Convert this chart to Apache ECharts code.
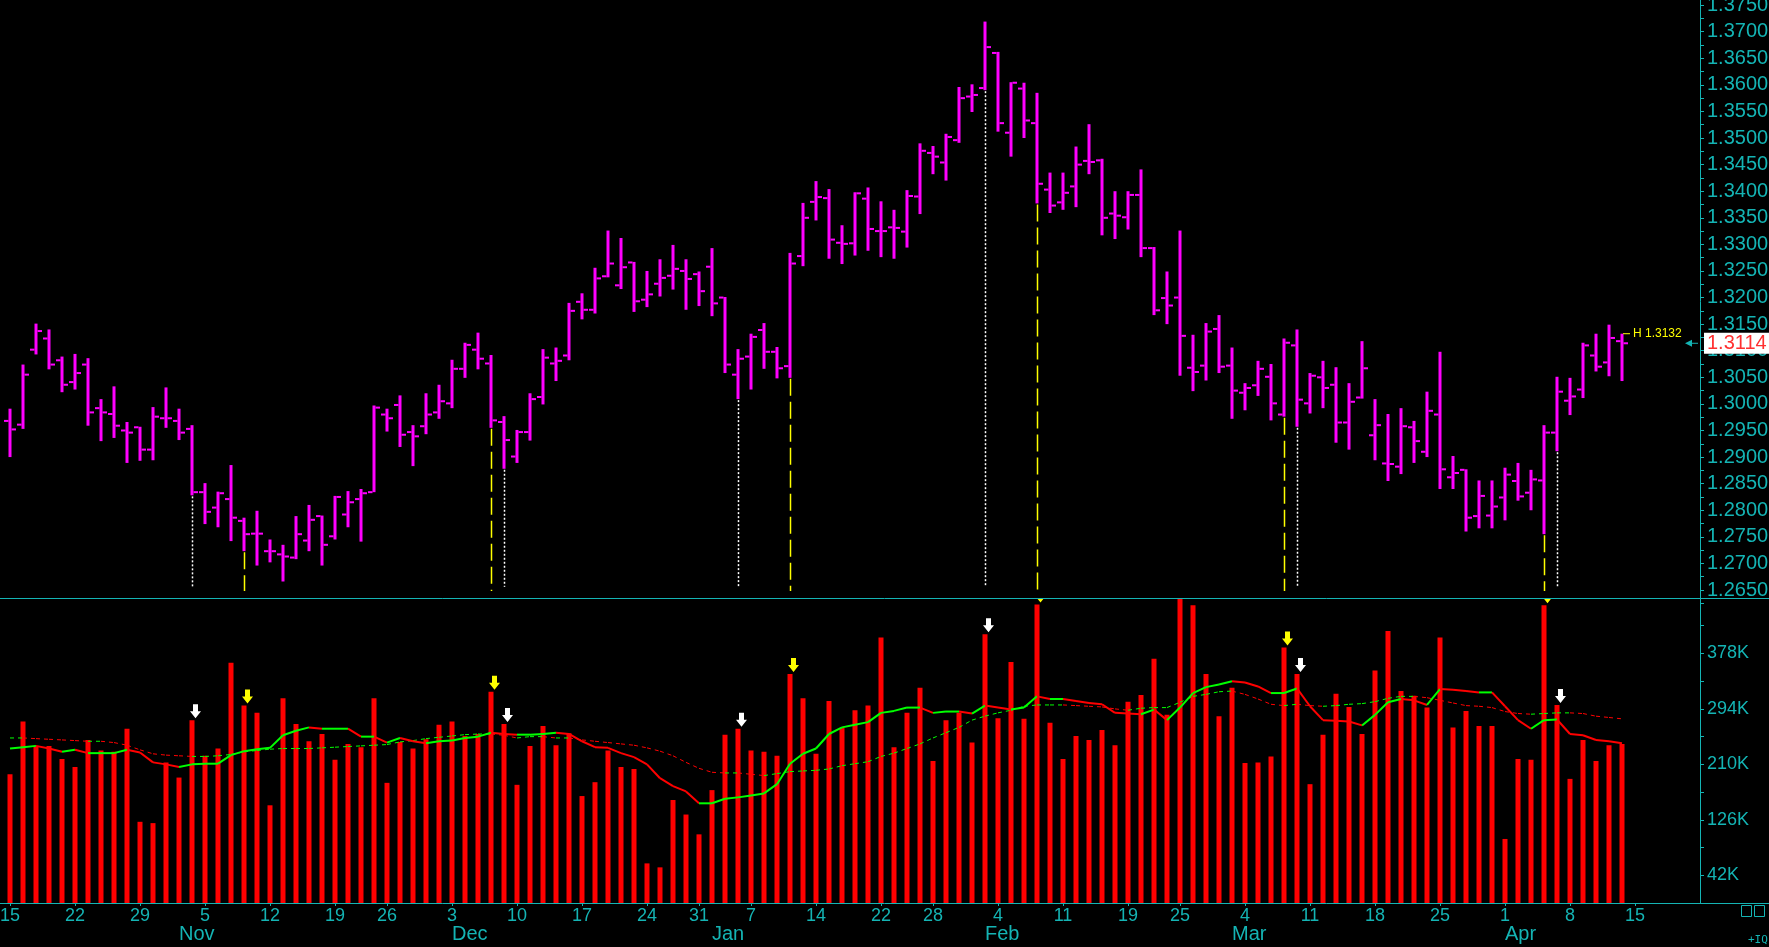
<!DOCTYPE html>
<html>
<head>
<meta charset="utf-8">
<title>Euro FX daily</title>
<script src="https://cdn.jsdelivr.net/npm/echarts@6/dist/echarts.min.js"></script>
<style>
html,body{margin:0;padding:0;background:#000;overflow:hidden;}
#chart{width:1769px;height:947px;}
</style>
</head>
<body>
<div id="chart"></div>
<script>
// ---------- trading days (categories) ----------
const oct2012 = [15,16,17,18,19,22,23,24,25,26,29,30,31];
const nov2012 = [1,2,5,6,7,8,9,12,13,14,15,16,19,20,21,23,26,27,28,29,30];
const dec2012 = [3,4,5,6,7,10,11,12,13,14,17,18,19,20,21,24,26,27,28,31];
const jan2013 = [2,3,4,7,8,9,10,11,14,15,16,17,18,22,23,24,25,28,29,30,31];
const feb2013 = [1,4,5,6,7,8,11,12,13,14,15,19,20,21,22,25,26,27,28];
const mar2013 = [1,4,5,6,7,8,11,12,13,14,15,18,19,20,21,22,25,26,27,28,29];
const apr2013 = [1,2,3,4,5,8,9,10,11,12,15,16,17,18,19,22];
const monthNames = ['Jan','Feb','Mar','Apr','May','Jun','Jul','Aug','Sep','Oct','Nov','Dec'];

// ---------- price bars (OHLC) ----------
const opens = [
1.2968,1.2961,1.3102,1.3123,1.3082,1.3041,1.3074,1.2992,1.2981,1.2950,
1.2956,1.2914,1.2973,1.2968,1.2953,1.2834,1.2805,1.2821,1.2780,1.2756,
1.2723,1.2717,1.2711,1.2743,1.2789,1.2751,1.2792,1.2821,1.2834,1.2980,
1.2998,1.2947,1.2958,1.2984,1.3001,1.3066,1.3102,1.3076,1.2966,1.2901,
1.2947,1.3013,1.3076,1.3091,1.3192,1.3177,1.3240,1.3223,1.3266,1.3196,
1.3226,1.3241,1.3250,1.3244,1.3258,1.3200,1.3055,1.3089,1.3139,1.3098,
1.3071,1.3278,1.3380,1.3387,1.3303,1.3302,1.3386,1.3325,1.3332,1.3324,
1.3390,1.3472,1.3454,1.3496,1.3578,1.3594,1.3660,1.3510,1.3593,1.3528,
1.3403,1.3379,1.3409,1.3457,1.3458,1.3358,1.3351,1.3393,1.3293,1.3199,
1.3200,1.3068,1.3072,1.3141,1.3072,1.3021,1.3035,1.3051,1.2980,1.3110,
1.3001,1.3050,1.3036,1.2965,1.3012,1.2941,1.2888,1.2882,1.2956,1.2910,
1.2980,1.2862,1.2876,1.2789,1.2790,1.2824,1.2855,1.2833,1.2856,1.2946,
1.3006,1.3027,1.3091,1.3078,1.3118];
const highs = [
1.2991,1.3074,1.3151,1.3140,1.3089,1.3094,1.3086,1.3009,1.3033,1.2966,
1.2957,1.2994,1.3031,1.2991,1.2960,1.2851,1.2835,1.2885,1.2786,1.2799,
1.2745,1.2735,1.2789,1.2810,1.2790,1.2827,1.2836,1.2840,1.2997,1.2991,
1.3016,1.2960,1.3020,1.3036,1.3083,1.3115,1.3134,1.3092,1.2977,1.2951,
1.3020,1.3103,1.3106,1.3190,1.3208,1.3256,1.3326,1.3312,1.3267,1.3250,
1.3272,1.3299,1.3272,1.3249,1.3293,1.3201,1.3103,1.3132,1.3152,1.3107,
1.3284,1.3378,1.3419,1.3404,1.3336,1.3398,1.3407,1.3381,1.3365,1.3402,
1.3490,1.3485,1.3508,1.3596,1.3601,1.3719,1.3662,1.3605,1.3604,1.3585,
1.3435,1.3435,1.3484,1.3526,1.3461,1.3400,1.3400,1.3441,1.3295,1.3249,
1.3326,1.3130,1.3152,1.3167,1.3106,1.3039,1.3081,1.3075,1.3123,1.3140,
1.3058,1.3081,1.3069,1.3039,1.3118,1.3009,1.2981,1.2992,1.2968,1.3023,
1.3098,1.2902,1.2877,1.2856,1.2856,1.2880,1.2889,1.2876,1.2960,1.3051,
1.3049,1.3115,1.3132,1.3149,1.3132];
const lows = [
1.2900,1.2953,1.3093,1.3065,1.3022,1.3027,1.2959,1.2930,1.2936,1.2889,
1.2893,1.2894,1.2955,1.2932,1.2828,1.2774,1.2768,1.2742,1.2723,1.2696,
1.2702,1.2666,1.2708,1.2723,1.2696,1.2745,1.2768,1.2741,1.2834,1.2948,
1.2919,1.2883,1.2943,1.2972,1.2992,1.3049,1.3065,1.2955,1.2878,1.2889,
1.2931,1.2999,1.3043,1.3082,1.3159,1.3170,1.3238,1.3216,1.3173,1.3182,
1.3202,1.3215,1.3177,1.3184,1.3165,1.3058,1.3009,1.3027,1.3066,1.3048,
1.3049,1.3259,1.3345,1.3273,1.3263,1.3279,1.3288,1.3276,1.3273,1.3294,
1.3357,1.3432,1.3420,1.3491,1.3549,1.3590,1.3512,1.3465,1.3500,1.3377,
1.3359,1.3365,1.3370,1.3432,1.3317,1.3310,1.3328,1.3276,1.3167,1.3150,
1.3053,1.3024,1.3044,1.3058,1.2972,1.2988,1.3015,1.2969,1.2976,1.2957,
1.2982,1.2992,1.2927,1.2914,1.3010,1.2894,1.2855,1.2868,1.2889,1.2900,
1.2840,1.2840,1.2760,1.2766,1.2766,1.2781,1.2818,1.2800,1.2755,1.2911,
1.2979,1.3011,1.3061,1.3052,1.3043];
const closes = [
1.2952,1.3055,1.3137,1.3074,1.3036,1.3058,1.2984,1.2984,1.2959,1.2946,
1.2914,1.2976,1.2973,1.2946,1.2834,1.2797,1.2832,1.2786,1.2755,1.2756,
1.2723,1.2713,1.2755,1.2782,1.2735,1.2825,1.2815,1.2832,1.2993,1.2973,
1.2942,1.2939,1.2980,1.3005,1.3066,1.3111,1.3085,1.2969,1.2932,1.2947,
1.3009,1.3087,1.3081,1.3175,1.3177,1.3236,1.3264,1.3257,1.3193,1.3206,
1.3237,1.3254,1.3235,1.3212,1.3189,1.3074,1.3085,1.3126,1.3098,1.3067,
1.3264,1.3350,1.3389,1.3309,1.3301,1.3396,1.3329,1.3325,1.3331,1.3391,
1.3476,1.3465,1.3502,1.3575,1.3581,1.3671,1.3528,1.3604,1.3533,1.3414,
1.3373,1.3397,1.3450,1.3455,1.3350,1.3354,1.3393,1.3293,1.3176,1.3185,
1.3128,1.3060,1.3136,1.3070,1.3025,1.3030,1.3066,1.3001,1.3115,1.3008,
1.3053,1.3030,1.2965,1.3004,1.3067,1.2960,1.2887,1.2958,1.2930,1.2987,
1.2877,1.2870,1.2786,1.2827,1.2807,1.2867,1.2826,1.2858,1.2946,1.3023,
1.3014,1.3110,1.3070,1.3124,1.3114];

// ---------- volume (thousands) ----------
const volumes = [
195,275,238,238,218,206,247,231,229,264,123,121,213,190,277,223,234,364,299,288,148,310,271,245,256,217,241,
236,310,182,244,234,248,270,275,253,256,320,271,179,238,268,239,257,162,183,231,206,203,60,54,156,134,104,
171,255,264,231,229,223,347,310,226,306,265,292,299,402,236,288,326,215,277,288,243,407,280,365,279,452,273,
218,253,247,262,239,305,315,370,285,475,451,347,283,326,212,213,222,387,347,180,255,317,297,256,352,412,321,
314,296,402,266,291,268,268,97,218,217,451,300,188,247,215,239,241];
const volAvgFast = [
234,236,238,234,229,232,227,227,227,232,228,213,210,206,210,211,211,224,230,233,235,254,261,266,264,264,264,
252,252,243,250,245,242,245,246,250,252,258,256,255,255,256,258,256,245,236,235,227,221,210,189,177,169,151,
151,158,160,163,166,180,211,226,234,256,266,270,274,288,291,296,296,288,290,290,287,299,296,293,296,313,309,
309,306,303,301,288,287,286,293,277,296,318,327,331,336,334,328,318,318,325,298,277,276,275,269,285,304,309,
307,300,324,323,321,319,319,298,277,264,277,278,256,254,247,245,242];
const volAvgSlow = [
250,250,249,248,247,246,245,245,243,239,232,226,224,223,222,222,223,225,229,231,233,234,234,234,235,236,237,
238,239,240,244,246,249,251,253,255,256,256,254,250,252,252,250,250,247,245,243,241,239,235,230,223,213,204,
198,197,197,195,193,196,199,200,201,203,208,211,214,222,227,234,241,250,258,266,277,283,288,292,298,300,300,
300,299,298,297,294,292,295,296,296,304,313,316,320,321,316,309,301,299,301,299,298,299,301,302,305,310,313,
313,311,307,303,299,298,296,290,287,286,287,288,288,287,283,281,279];

// ---------- marked days ----------
const yellowDays = ['2012-11-08','2012-12-06','2013-01-10','2013-02-07','2013-03-07','2013-04-04'];
const whiteDays  = ['2012-11-02','2012-12-07','2013-01-04','2013-02-01','2013-03-08','2013-04-05'];

// ---------- build categories ----------
function pad(n){ return (n < 10 ? '0' : '') + n; }
const dates = [].concat(
  oct2012.map(d => '2012-10-' + pad(d)),
  nov2012.map(d => '2012-11-' + pad(d)),
  dec2012.map(d => '2012-12-' + pad(d)),
  jan2013.map(d => '2013-01-' + pad(d)),
  feb2013.map(d => '2013-02-' + pad(d)),
  mar2013.map(d => '2013-03-' + pad(d)),
  apr2013.map(d => '2013-04-' + pad(d))
);
function toDate(s){ return new Date(+s.slice(0,4), +s.slice(5,7) - 1, +s.slice(8,10)); }
const weekday = dates.map(s => toDate(s).getDay());
const lastLabelIdx = dates.indexOf('2013-04-15');
function isWeekStart(idx){ return idx <= lastLabelIdx && (idx === 0 || weekday[idx] < weekday[idx - 1]); }
function isMonthStart(idx){ return idx > 0 && dates[idx].slice(5,7) !== dates[idx - 1].slice(5,7); }

const AXIS = '#14b4b4';
const FONT = "'Liberation Sans', Arial, sans-serif";
const VOL_MAX = 462;

const ohlcData = opens.map((o, i) => [i, o, highs[i], lows[i], closes[i]]);
const eventData = [];
yellowDays.forEach(d => { const i = dates.indexOf(d); eventData.push([i, lows[i], 0, volumes[i]]); });
whiteDays.forEach(d => { const i = dates.indexOf(d); eventData.push([i, lows[i], 1, volumes[i]]); });
const volData = volumes.map((v, i) => [i, v]);
const fastSeg = volAvgFast.slice(1).map((v, k) => [k + 1, v, volAvgFast[k]]);
const slowSeg = volAvgSlow.slice(1).map((v, k) => [k + 1, v, volAvgSlow[k]]);
const arrowData = eventData.map(e => [e[0], e[3], e[2]]);

function renderOHLC(params, api){
  const i = api.value(0);
  const pO = api.coord([i, api.value(1)]);
  const pH = api.coord([i, api.value(2)]);
  const pL = api.coord([i, api.value(3)]);
  const pC = api.coord([i, api.value(4)]);
  const x = Math.round(pH[0]);
  const col = '#ff00ff';
  return {type:'group', children:[
    {type:'rect', shape:{x:x - 1.5, y:pH[1], width:3, height:Math.max(1, pL[1] - pH[1])}, style:{fill:col}},
    {type:'rect', shape:{x:x - 6, y:pO[1] - 1, width:4.5, height:2}, style:{fill:col}},
    {type:'rect', shape:{x:x + 1.5, y:pC[1] - 1, width:4.5, height:2}, style:{fill:col}}
  ]};
}
function renderEvent(params, api){
  const i = api.value(0);
  const kind = api.value(2);
  const top = api.coord([i, api.value(1)]);
  const bot = api.coord([i, kind === 0 ? 1.2648 : 1.2656]);
  const x = Math.round(top[0]) + 0.5;
  return {type:'line', shape:{x1:x, y1:top[1] + 1, x2:x, y2:bot[1]},
    style:{stroke: kind === 0 ? '#ffff00' : '#ffffff', lineWidth: 1.5, lineDash: kind === 0 ? [17,6] : [2,2]}};
}
function makeSegRenderer(dashed){
  return function(params, api){
    const i = api.value(0);
    const a = api.coord([i - 1, api.value(2)]);
    const b = api.coord([i, api.value(1)]);
    const up = api.value(1) >= api.value(2);
    return {type:'line', shape:{x1:a[0], y1:a[1], x2:b[0], y2:b[1]},
      style:{stroke: up ? '#00ff00' : '#ff0000', lineWidth: dashed ? 1 : 2, lineDash: dashed ? [4,4] : null}};
  };
}
function renderArrow(params, api){
  const p = api.coord([api.value(0), api.value(1)]);
  const kind = api.value(2);
  const x = Math.round(p[0]) + 3.5, yT = p[1] - 2;
  return {type:'polygon', shape:{points:[[x-2.5,yT-14],[x+2.5,yT-14],[x+2.5,yT-7],[x+5.5,yT-7],[x,yT],[x-5.5,yT-7],[x-2.5,yT-7]]},
    style:{fill: kind === 0 ? '#ffff00' : '#ffffff'}};
}

const chart = echarts.init(document.getElementById('chart'));
const option = {
  backgroundColor: '#000000',
  animation: false,
  grid: [
    {left: 3.5, width: 1703, top: -8.2, height: 611.5, containLabel: false, outerBoundsMode: 'none', show: false},
    {left: 3.5, width: 1703, top: 598, height: 305, containLabel: false, outerBoundsMode: 'none', show: false}
  ],
  xAxis: [
    {type:'category', gridIndex:0, data: dates, show: false},
    {type:'category', gridIndex:1, data: dates, position:'bottom',
      axisLine:{show:false},
      axisTick:{show:true, alignWithLabel:true, interval: isWeekStart, length:3, lineStyle:{color:AXIS, width:1}},
      axisLabel:{interval: isWeekStart, formatter: v => String(+v.slice(8,10)), color:AXIS, fontSize:18, fontFamily:FONT, margin:4},
      splitLine:{show:false}},
    {type:'category', gridIndex:1, data: dates, position:'bottom',
      axisLine:{show:false}, axisTick:{show:false},
      axisLabel:{interval: isMonthStart, formatter: v => monthNames[+v.slice(5,7) - 1], align:'left', color:AXIS, fontSize:20, fontFamily:FONT, margin:21},
      splitLine:{show:false}}
  ],
  yAxis: [
    {type:'value', gridIndex:0, position:'right', offset:-6.5, min:1.2625, max:1.3775, interval:0.0025,
      axisLine:{show:true, lineStyle:{color:AXIS, width:1}},
      axisTick:{show:true, length:4, lineStyle:{color:AXIS}},
      axisLabel:{color:AXIS, fontSize:20, fontFamily:FONT, margin:7,
        formatter: v => (Math.round(v * 10000) % 50 === 0 ? v.toFixed(4) : '')},
      splitLine:{show:false}},
    {type:'value', gridIndex:1, position:'right', offset:-6.5, min:0, max:VOL_MAX, interval:42,
      axisLine:{show:true, lineStyle:{color:AXIS, width:1}},
      axisTick:{show:true, length:4, lineStyle:{color:AXIS}},
      axisLabel:{color:AXIS, fontSize:18, fontFamily:FONT, margin:7,
        formatter: v => (v < VOL_MAX - 1 && Math.round(v / 42) % 2 === 1 ? Math.round(v) + 'K' : '')},
      splitLine:{show:false}}
  ],
  series: [
    {type:'custom', name:'events', xAxisIndex:0, yAxisIndex:0, data: eventData, renderItem: renderEvent, encode:{x:0, y:1}, z:2},
    {type:'custom', name:'price', xAxisIndex:0, yAxisIndex:0, data: ohlcData, renderItem: renderOHLC, encode:{x:0, y:[1,2,3,4]}, z:3},
    {type:'bar', name:'volume', xAxisIndex:1, yAxisIndex:1, data: volData, barWidth:5, itemStyle:{color:'#ff0000'}, clip:true, z:2},
    {type:'custom', name:'volAvgSlow', xAxisIndex:1, yAxisIndex:1, data: slowSeg, renderItem: makeSegRenderer(true), encode:{x:0, y:1}, clip:true, z:3},
    {type:'custom', name:'volAvgFast', xAxisIndex:1, yAxisIndex:1, data: fastSeg, renderItem: makeSegRenderer(false), encode:{x:0, y:1}, clip:true, z:4},
    {type:'custom', name:'arrows', xAxisIndex:1, yAxisIndex:1, data: arrowData, renderItem: renderArrow, encode:{x:0, y:1}, clip:true, z:5}
  ]
};
chart.setOption(option);

// last price / high annotations positioned through the chart's own scales
const li = closes.length - 1;
const yClose = chart.convertToPixel({yAxisIndex:0}, closes[li]);
const pHigh = chart.convertToPixel({gridIndex:0}, [li, highs[li]]);
chart.setOption({
  graphic: [
    {type:'line', id:'sep', z:50, shape:{x1:0, y1:598.5, x2:1769, y2:598.5}, style:{stroke:AXIS, lineWidth:1}},
    {type:'line', id:'base', z:50, shape:{x1:0, y1:903.5, x2:1769, y2:903.5}, style:{stroke:AXIS, lineWidth:1}},
    {type:'line', id:'hdash', z:50, shape:{x1:pHigh[0] + 1, y1:pHigh[1], x2:pHigh[0] + 8, y2:pHigh[1]}, style:{stroke:'#ffff00', lineWidth:1}},
    {type:'text', id:'htext', z:50, x:pHigh[0] + 11, y:pHigh[1],
      style:{text:'H ' + highs[li].toFixed(4), fill:'#ffff00', font:"12px 'Liberation Sans', Arial, sans-serif", verticalAlign:'middle', textVerticalAlign:'middle'}},
    {type:'rect', id:'lastbox', z:60, shape:{x:1704, y:yClose - 10.5, width:65, height:21}, style:{fill:'#ffffff'}},
    {type:'text', id:'lasttext', z:61, x:1707, y:yClose + 0.5,
      style:{text: closes[li].toFixed(4), fill:'#ff3030', font:"20px 'Liberation Sans', Arial, sans-serif", verticalAlign:'middle', textVerticalAlign:'middle'}},
    {type:'polygon', id:'lastarrow', z:50, shape:{points:[[1685, yClose], [1692, yClose - 3.5], [1692, yClose + 3.5]]}, style:{fill:AXIS}},
    {type:'line', id:'lastarrowline', z:50, shape:{x1:1691, y1:yClose, x2:1698, y2:yClose}, style:{stroke:AXIS, lineWidth:1}},
    {type:'rect', id:'box1', z:50, shape:{x:1741.5, y:905.5, width:10, height:11}, style:{fill:'none', stroke:AXIS, lineWidth:1}},
    {type:'rect', id:'box2', z:50, shape:{x:1754.5, y:905.5, width:10, height:11}, style:{fill:'none', stroke:AXIS, lineWidth:1}},
    {type:'text', id:'iq', z:50, x:1748, y:940,
      style:{text:'+IQ', fill:AXIS, font:"11px 'DejaVu Sans Mono', monospace", verticalAlign:'middle', textVerticalAlign:'middle'}}
  ]
});
</script>
</body>
</html>
